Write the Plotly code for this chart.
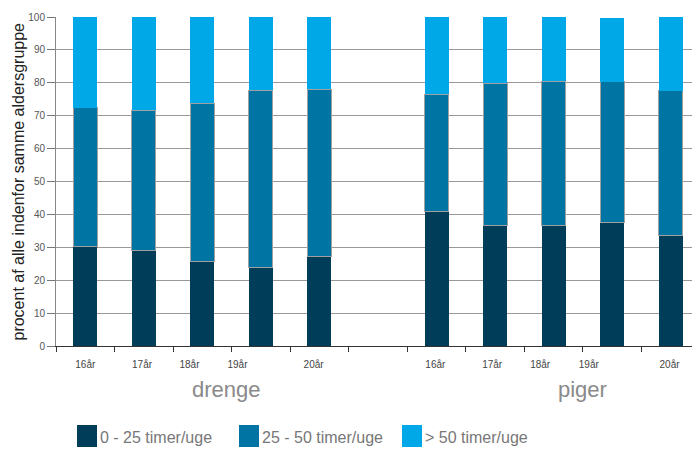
import plotly.graph_objects as go

# ---- data ----
ages = ["16år", "17år", "18år", "19år", "20år"]
groups = ["drenge", "piger"]
series_names = ["0 - 25 timer/uge", "25 - 50 timer/uge", "> 50 timer/uge"]

drenge_low = [30.3, 28.9, 25.8, 24.0, 27.1]
drenge_mid = [42.1, 42.8, 48.0, 53.7, 51.0]
drenge_high = [27.6, 28.3, 26.2, 22.3, 21.9]

piger_low = [40.9, 36.7, 36.7, 37.4, 33.5]
piger_mid = [35.6, 43.1, 43.8, 42.9, 44.1]
piger_high = [23.5, 20.2, 19.5, 19.5, 22.4]

colors = ["#003D59", "#0074A2", "#00A8E8"]

# ---- layout helpers (page body has an 8px margin) ----
OFF = 8
W, H = 700 - OFF, 450 - OFF
L, R, T, B = 56 - OFF, 0, 17 - OFF, 104
PW, PH = W - L - R, H - T - B

def px_x(px):
    return (px - OFF - L) / PW

def px_y(py):
    return (H - B - (py - OFF)) / PH

x_pos = list(range(0, 5)) + list(range(6, 11))
low = drenge_low + piger_low
mid = drenge_mid + piger_mid
high = drenge_high + piger_high

fig = go.Figure()
for name, vals, col, lw in zip(series_names, [low, mid, high], colors, [0, 1, 0]):
    fig.add_trace(go.Bar(
        x=x_pos, y=vals, name=name, width=0.41,
        marker=dict(color=col, line=dict(color="#a0a0a0", width=lw)),
        showlegend=False, xaxis="x", yaxis="y",
    ))

# invisible trace for second x axis (labels)
fig.add_trace(go.Scatter(x=[0], y=[0], xaxis="x2", yaxis="y",
                         mode="markers", marker=dict(opacity=0),
                         showlegend=False, hoverinfo="skip"))

label_pos = [0, 0.97, 1.78, 2.6, 3.9, 5.98, 6.95, 7.77, 8.6, 9.98]
label_text = ages + ages

font = "Liberation Sans, Arial"

fig.update_layout(
    width=W, height=H,
    margin=dict(l=L, r=R, t=T, b=B),
    barmode="stack",
    plot_bgcolor="white", paper_bgcolor="white",
    xaxis=dict(range=[-0.5, 10.5], tickmode="array",
               tickvals=[i - 0.5 for i in range(11)],
               showticklabels=False, ticks="outside", ticklen=5,
               tickcolor="#333", showline=True, linecolor="#333",
               linewidth=1, showgrid=False, zeroline=False, fixedrange=True),
    xaxis2=dict(range=[-0.5, 10.5], overlaying="x", anchor="y", side="bottom",
                tickmode="array", tickvals=label_pos, ticktext=label_text,
                ticks="outside", ticklen=9, tickcolor="rgba(0,0,0,0)",
                showgrid=False, zeroline=False, showline=False,
                tickfont=dict(family=font, size=10, color="#444")),
    yaxis=dict(range=[0, 100], tickmode="array",
               tickvals=list(range(0, 101, 10)),
               ticks="outside", ticklen=8, tickcolor="#777",
               showline=True, linecolor="#888", linewidth=1,
               showgrid=True, gridcolor="#999999", gridwidth=1,
               zeroline=False,
               tickfont=dict(family=font, size=10, color="#555")),
)

# y-axis title
fig.add_annotation(text="procent af alle indenfor samme aldersgruppe",
                   xref="paper", yref="paper", x=px_x(18), y=0.5,
                   textangle=-90, showarrow=False, xanchor="center", yanchor="middle",
                   font=dict(family=font, size=16, color="#222"))

# group labels
for g, gx in zip(groups, [227, 582]):
    fig.add_annotation(text=g, xref="paper", yref="paper", x=px_x(gx), y=px_y(389),
                       showarrow=False, xanchor="center", yanchor="middle",
                       font=dict(family=font, size=22, color="#8a8a8a"))

# custom legend
box_x = [77, 239, 402]
for name, col, bx in zip(series_names, colors, box_x):
    fig.add_shape(type="rect", xref="paper", yref="paper",
                  x0=px_x(bx), x1=px_x(bx + 20), y0=px_y(447), y1=px_y(425),
                  fillcolor=col, line=dict(width=0))
    fig.add_annotation(text=name, xref="paper", yref="paper",
                       x=px_x(bx + 21), y=px_y(437), showarrow=False,
                       xanchor="left", yanchor="middle",
                       font=dict(family=font, size=16, color="#777"))

fig.write_html("out.html")
